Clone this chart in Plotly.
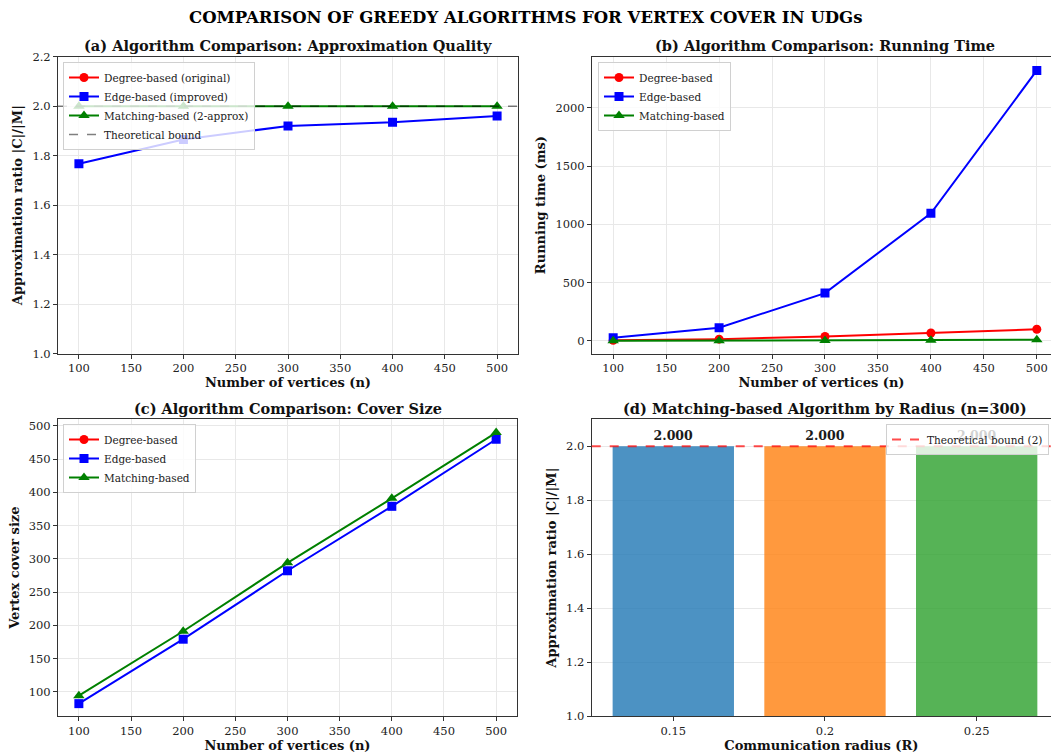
import plotly.graph_objects as go

# ---------------- data ----------------
n_vertices = [100, 200, 300, 400, 500]

ratio_degree = [None, None, None, None, None]
ratio_edge = [1.767, 1.865, 1.920, 1.935, 1.960]
ratio_matching = [2.0, 2.0, 2.0, 2.0, 2.0]
theoretical_bound = 2.0

time_degree = [5, 15, 38, 68, 100]
time_edge = [28, 113, 410, 1095, 2320]
time_matching = [1, 2, 3, 5, 10]

size_degree = [None, None, None, None, None]
size_edge = [82, 179, 282, 379, 480]
size_matching = [94, 191, 294, 391, 490]

radius_labels = ["0.15", "0.2", "0.25"]
radius_ratio = [2.0, 2.0, 2.0]
bar_colors = ["rgba(31,119,180,0.8)", "rgba(255,127,14,0.8)", "rgba(44,160,44,0.8)"]

# ---------------- figure ----------------
W, H = 1051, 754
FONT = "DejaVu Serif"
fig = go.Figure()

def px_x(p):
    return p / W

def px_y(p):
    return 1 - p / H

dom = {
    "a": ([px_x(58), px_x(518)], [px_y(353.5), px_y(56.7)]),
    "b": ([px_x(592), 1.0], [px_y(353.5), px_y(56.7)]),
    "c": ([px_x(58), px_x(517)], [px_y(716), px_y(419.3)]),
    "d": ([px_x(591.7), 1.0], [px_y(716), px_y(419.3)]),
}

RED, BLUE, GREEN = "#ff0000", "#0000ff", "#008000"

def add_lines(xa, ya, leg, names, ys):
    specs = [(RED, "circle", 9), (BLUE, "square", 9), (GREEN, "triangle-up", 10)]
    for (c, sym, sz), nm, yv in zip(specs, names, ys):
        fig.add_trace(go.Scatter(
            x=n_vertices, y=yv, name=nm, mode="lines+markers",
            line=dict(color=c, width=2), marker=dict(color=c, symbol=sym, size=sz),
            xaxis=xa, yaxis=ya, legend=leg))

add_lines("x", "y", "legend",
          ["Degree-based (original)", "Edge-based (improved)", "Matching-based (2-approx)"],
          [ratio_degree, ratio_edge, ratio_matching])
add_lines("x2", "y2", "legend2",
          ["Degree-based", "Edge-based", "Matching-based"],
          [time_degree, time_edge, time_matching])
add_lines("x3", "y3", "legend3",
          ["Degree-based", "Edge-based", "Matching-based"],
          [size_degree, size_edge, size_matching])

fig.add_trace(go.Bar(
    x=radius_labels, y=radius_ratio, marker=dict(color=bar_colors, line=dict(width=0)),
    width=0.8, text=[f"{v:.3f}" for v in radius_ratio], textposition="outside",
    textfont=dict(family=FONT, size=12.5, color="#1a1a1a", weight="bold"), cliponaxis=False,
    showlegend=False, xaxis="x4", yaxis="y4"))

# reference lines
fig.add_shape(type="line", xref="x domain", yref="y", x0=0, x1=1,
              y0=theoretical_bound, y1=theoretical_bound,
              line=dict(color="rgba(0,0,0,0.5)", width=1.5, dash="dash"),
              showlegend=True, name="Theoretical bound", legend="legend")
fig.add_shape(type="line", xref="x4 domain", yref="y4", x0=0, x1=1,
              y0=theoretical_bound, y1=theoretical_bound,
              line=dict(color="rgba(255,0,0,0.7)", width=2, dash="dash"),
              showlegend=True, name="Theoretical bound (2)", legend="legend4")

axis_common = dict(showline=True, mirror=True, linecolor="#333", linewidth=1,
                   ticks="outside", ticklen=4, tickcolor="#333", automargin=False,
                   tickfont=dict(family=FONT, size=11.5, color="#222"),
                   gridcolor="#e8e8e8", gridwidth=1, zeroline=False)
title_font = dict(family=FONT, size=13, color="#111")

def xt(t):
    return dict(text=f"<b>{t}</b>", font=title_font, standoff=2)

def yt(t):
    return dict(text=f"<b>{t}</b>", font=title_font, standoff=6)

nticks = [100, 150, 200, 250, 300, 350, 400, 450, 500]
fig.update_layout(
    xaxis=dict(domain=dom["a"][0], anchor="y", range=[80, 520], tickvals=nticks,
               title=xt("Number of vertices (n)"), **axis_common),
    yaxis=dict(domain=dom["a"][1], anchor="x", range=[1.0, 2.2],
               tickvals=[1.0, 1.2, 1.4, 1.6, 1.8, 2.0, 2.2], tickformat=".1f",
               title=yt("Approximation ratio |C|/|M|"), **axis_common),
    xaxis2=dict(domain=dom["b"][0], anchor="y2", range=[80, 513.4], tickvals=nticks,
                title=xt("Number of vertices (n)"), **axis_common),
    yaxis2=dict(domain=dom["b"][1], anchor="x2", range=[-108, 2438],
                tickvals=[0, 500, 1000, 1500, 2000],
                title=yt("Running time (ms)"), **axis_common),
    xaxis3=dict(domain=dom["c"][0], anchor="y3", range=[80, 520], tickvals=nticks,
                title=xt("Number of vertices (n)"), **axis_common),
    yaxis3=dict(domain=dom["c"][1], anchor="x3", range=[63.4, 510],
                tickvals=[100, 150, 200, 250, 300, 350, 400, 450, 500],
                title=yt("Vertex cover size"), **axis_common),
    xaxis4=dict(domain=dom["d"][0], anchor="y4", range=[-0.538, 2.49], type="category",
                showgrid=False, title=xt("Communication radius (R)"), **axis_common),
    yaxis4=dict(domain=dom["d"][1], anchor="x4", range=[1.0, 2.1],
                tickvals=[1.0, 1.2, 1.4, 1.6, 1.8, 2.0], tickformat=".1f",
                title=yt("Approximation ratio |C|/|M|"), **axis_common),
)

leg_common = dict(bgcolor="rgba(255,255,255,0.8)", bordercolor="#d0d0d0", borderwidth=1,
                  font=dict(family=FONT, size=10.5, color="#222"),
                  yanchor="top", tracegroupgap=0, itemwidth=30)
fig.update_layout(
    legend=dict(x=px_x(63), y=px_y(62), xanchor="left", **leg_common),
    legend2=dict(x=px_x(598), y=px_y(62), xanchor="left", **leg_common),
    legend3=dict(x=px_x(63), y=px_y(424), xanchor="left", **leg_common),
    legend4=dict(x=px_x(1049), y=px_y(424), xanchor="right", **leg_common),
)

sub_font = dict(family=FONT, size=14.5, color="#111")
annots = [
    ("(a) Algorithm Comparison: Approximation Quality", 288, 45),
    ("(b) Algorithm Comparison: Running Time", 825, 45),
    ("(c) Algorithm Comparison: Cover Size", 288, 408),
    ("(d) Matching-based Algorithm by Radius (n=300)", 825, 408),
]
for txt, xp, yp in annots:
    fig.add_annotation(text=f"<b>{txt}</b>", x=px_x(xp), y=px_y(yp), xref="paper",
                       yref="paper", showarrow=False, font=sub_font,
                       xanchor="center", yanchor="middle")
fig.add_annotation(text="<b>COMPARISON OF GREEDY ALGORITHMS FOR VERTEX COVER IN UDGs</b>",
                   x=px_x(525), y=px_y(18), xref="paper", yref="paper", showarrow=False,
                   font=dict(family=FONT, size=16.5, color="#000"),
                   xanchor="center", yanchor="middle")

fig.update_layout(width=W, height=H, margin=dict(l=0, r=0, t=0, b=0),
                  paper_bgcolor="white", plot_bgcolor="white",
                  font=dict(family=FONT), bargap=0.2)

fig.write_html("out.html", config={"displayModeBar": False},
               post_script="document.body.style.margin='0';document.body.style.overflow='hidden';")
